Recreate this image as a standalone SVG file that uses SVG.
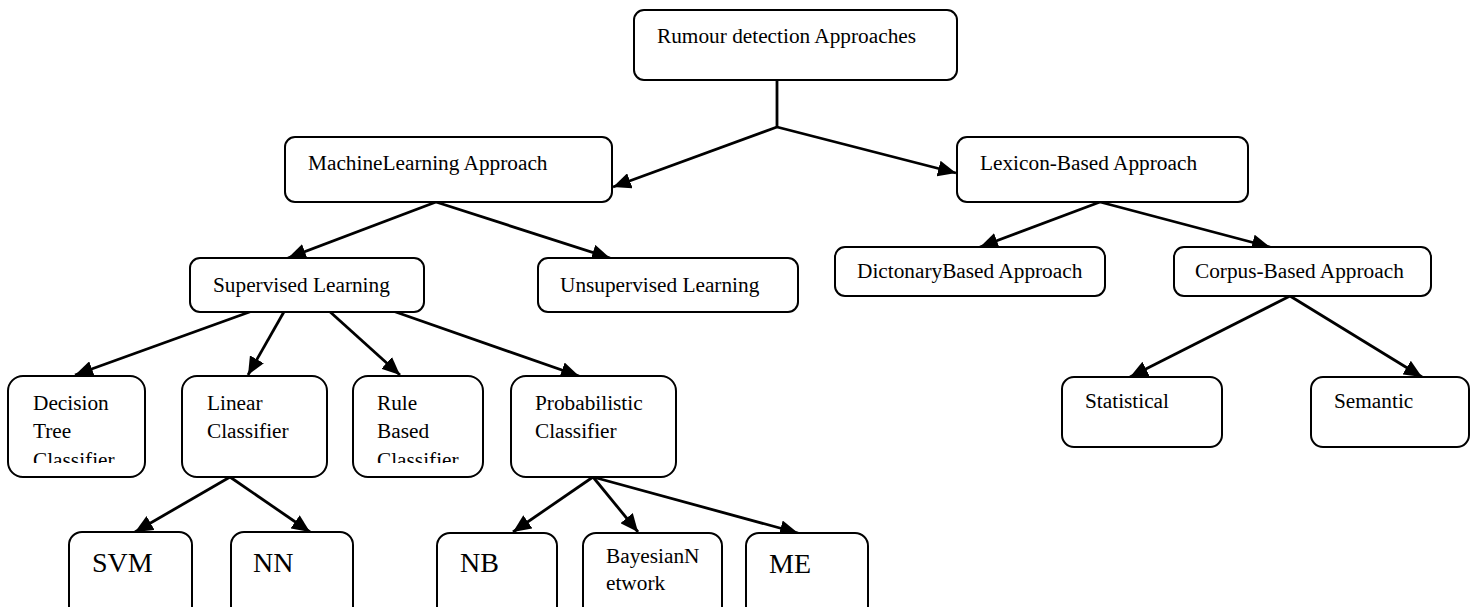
<svg xmlns="http://www.w3.org/2000/svg" width="1470" height="607" viewBox="0 0 1470 607">
<style>
.box{fill:#fff;stroke:#000;stroke-width:2}
.t{font-family:"Liberation Serif","Times New Roman",serif;font-size:21.3px;fill:#000}
.big{font-size:28px}
.c{stroke:#000;stroke-width:2.8;fill:none}
.a{marker-end:url(#arr)}
</style>
<defs>
<marker id="arr" markerUnits="userSpaceOnUse" markerWidth="19" markerHeight="16" refX="18" refY="8" orient="auto">
<path d="M0,0 L18,8 L0,16 z" fill="#000"/>
</marker>
<clipPath id="clipDT"><rect x="0" y="370" width="160" height="93"/></clipPath>
<clipPath id="clipRB"><rect x="340" y="370" width="160" height="93"/></clipPath>
</defs>
<rect width="1470" height="607" fill="#fff"/>
<g id="connectors">
<line class="c" x1="777" y1="80" x2="777" y2="127"/>
<line class="c a" x1="777" y1="127" x2="613" y2="187"/>
<line class="c a" x1="777" y1="127" x2="956" y2="173"/>
<line class="c a" x1="436" y1="202" x2="288" y2="258"/>
<line class="c a" x1="436" y1="202" x2="610" y2="258"/>
<line class="c a" x1="1100" y1="202" x2="980" y2="247"/>
<line class="c a" x1="1100" y1="202" x2="1270" y2="247"/>
<line class="c a" x1="255" y1="310" x2="75" y2="375"/>
<line class="c a" x1="285" y1="310" x2="248" y2="375"/>
<line class="c a" x1="328" y1="310" x2="400" y2="375"/>
<line class="c a" x1="390" y1="310" x2="579" y2="376"/>
<line class="c a" x1="230" y1="477" x2="135" y2="532"/>
<line class="c a" x1="230" y1="477" x2="310" y2="532"/>
<line class="c a" x1="593" y1="477" x2="513" y2="532"/>
<line class="c a" x1="593" y1="477" x2="638" y2="532"/>
<line class="c a" x1="593" y1="477" x2="798" y2="533"/>
<line class="c a" x1="1290" y1="296" x2="1130" y2="377"/>
<line class="c a" x1="1290" y1="296" x2="1422" y2="377"/>
</g>
<g id="root"><rect class="box" x="634" y="10" width="323" height="70" rx="10"/><text class="t" x="657" y="43">Rumour detection Approaches</text></g>
<g id="ml"><rect class="box" x="285" y="137" width="327" height="65" rx="10"/><text class="t" x="308" y="170">MachineLearning Approach</text></g>
<g id="lexicon"><rect class="box" x="957" y="137" width="291" height="65" rx="10"/><text class="t" x="980" y="170">Lexicon-Based Approach</text></g>
<g id="supervised"><rect class="box" x="190" y="258" width="234" height="54" rx="10"/><text class="t" x="213" y="292">Supervised Learning</text></g>
<g id="unsupervised"><rect class="box" x="538" y="258" width="260" height="54" rx="10"/><text class="t" x="560" y="292">Unsupervised Learning</text></g>
<g id="dictionary"><rect class="box" x="835" y="247" width="270" height="49" rx="10"/><text class="t" x="857" y="278">DictonaryBased Approach</text></g>
<g id="corpus"><rect class="box" x="1174" y="247" width="257" height="49" rx="10"/><text class="t" x="1195" y="278">Corpus-Based Approach</text></g>
<g id="statistical"><rect class="box" x="1062" y="377" width="160" height="70" rx="12"/><text class="t" x="1085" y="408">Statistical</text></g>
<g id="semantic"><rect class="box" x="1311" y="377" width="158" height="70" rx="12"/><text class="t" x="1334" y="408">Semantic</text></g>
<g id="decision"><rect class="box" x="8" y="376" width="137" height="101" rx="15"/><text class="t" clip-path="url(#clipDT)"><tspan x="33" y="410">Decision</tspan><tspan x="33" y="438">Tree</tspan><tspan x="33" y="467">Classifier</tspan></text></g>
<g id="linear"><rect class="box" x="182" y="376" width="145" height="101" rx="15"/><text class="t"><tspan x="207" y="410">Linear</tspan><tspan x="207" y="438">Classifier</tspan></text></g>
<g id="rule"><rect class="box" x="353" y="376" width="130" height="101" rx="15"/><text class="t" clip-path="url(#clipRB)"><tspan x="377" y="410">Rule</tspan><tspan x="377" y="438">Based</tspan><tspan x="377" y="467">Classifier</tspan></text></g>
<g id="probabilistic"><rect class="box" x="511" y="376" width="165" height="101" rx="15"/><text class="t"><tspan x="535" y="410">Probabilistic</tspan><tspan x="535" y="438">Classifier</tspan></text></g>
<g id="svm"><rect class="box" x="69" y="532" width="123" height="90" rx="13"/><text class="t big" x="92" y="572">SVM</text></g>
<g id="nn"><rect class="box" x="231" y="532" width="122" height="90" rx="13"/><text class="t big" x="253" y="572">NN</text></g>
<g id="nb"><rect class="box" x="437" y="533" width="120" height="90" rx="13"/><text class="t big" x="460" y="572">NB</text></g>
<g id="bayesian"><rect class="box" x="583" y="533" width="139" height="90" rx="13"/><text class="t"><tspan x="606" y="563">BayesianN</tspan><tspan x="606" y="590">etwork</tspan></text></g>
<g id="me"><rect class="box" x="746" y="533" width="122" height="90" rx="13"/><text class="t big" x="769" y="573">ME</text></g>
</svg>
